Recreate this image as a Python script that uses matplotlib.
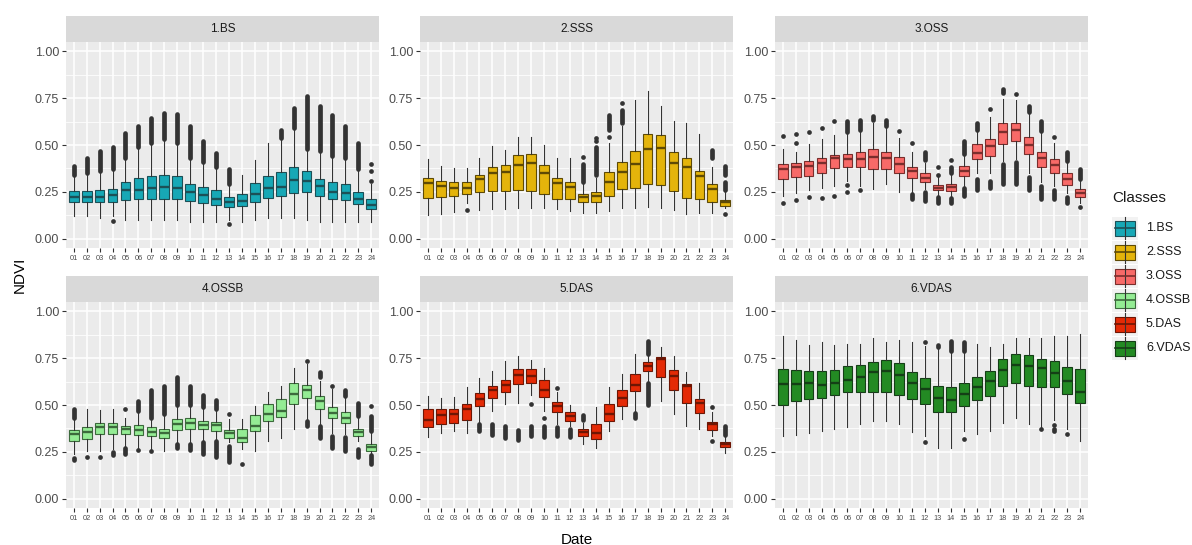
import numpy as np
import matplotlib.pyplot as plt

plt.rcParams['font.family'] = ['Liberation Sans', 'DejaVu Sans']

W, H = 1192, 545

dates = [f"{i:02d}" for i in range(1, 25)]
classes = ["1.BS", "2.SSS", "3.OSS", "4.OSSB", "5.DAS", "6.VDAS"]
fills = ["#17A8B6", "#E4B40B", "#F86A68", "#94EC94", "#E42A06", "#238A23"]
edges = ["#1C5057", "#5E4A05", "#7A2E2C", "#3C6A3C", "#6E1604", "#143F16"]

# box stats per date: [whisker low, Q1, median, Q3, whisker high]
bs_stats = [
    [0.12, 0.198, 0.223, 0.255, 0.335], [0.12, 0.194, 0.223, 0.255, 0.34],
    [0.11, 0.198, 0.225, 0.26, 0.35], [0.12, 0.198, 0.232, 0.267, 0.36],
    [0.10, 0.207, 0.258, 0.30, 0.42], [0.10, 0.214, 0.26, 0.326, 0.48],
    [0.10, 0.214, 0.273, 0.335, 0.50], [0.10, 0.214, 0.275, 0.34, 0.52],
    [0.10, 0.214, 0.27, 0.335, 0.50], [0.09, 0.20, 0.248, 0.29, 0.42],
    [0.09, 0.19, 0.232, 0.277, 0.40], [0.09, 0.18, 0.21, 0.26, 0.37],
    [0.10, 0.17, 0.195, 0.22, 0.28], [0.09, 0.175, 0.20, 0.24, 0.34],
    [0.10, 0.195, 0.24, 0.295, 0.42], [0.11, 0.215, 0.27, 0.335, 0.51],
    [0.11, 0.23, 0.275, 0.355, 0.53], [0.11, 0.246, 0.312, 0.38, 0.58],
    [0.10, 0.251, 0.308, 0.362, 0.47], [0.09, 0.228, 0.282, 0.32, 0.46],
    [0.09, 0.21, 0.251, 0.30, 0.43], [0.09, 0.205, 0.246, 0.294, 0.42],
    [0.09, 0.184, 0.214, 0.251, 0.36], [0.09, 0.157, 0.178, 0.21, 0.29],
]
sss_stats = [
    [0.125, 0.219, 0.296, 0.323, 0.424], [0.13, 0.225, 0.282, 0.308, 0.39],
    [0.143, 0.228, 0.273, 0.30, 0.375], [0.19, 0.237, 0.273, 0.30, 0.375],
    [0.153, 0.25, 0.317, 0.34, 0.433], [0.16, 0.255, 0.35, 0.383, 0.495],
    [0.16, 0.255, 0.357, 0.392, 0.474], [0.166, 0.26, 0.394, 0.446, 0.545],
    [0.166, 0.255, 0.403, 0.451, 0.545], [0.166, 0.237, 0.35, 0.392, 0.50],
    [0.157, 0.214, 0.296, 0.326, 0.428], [0.148, 0.21, 0.278, 0.303, 0.433],
    [0.139, 0.193, 0.223, 0.24, 0.29], [0.139, 0.193, 0.228, 0.25, 0.326],
    [0.148, 0.228, 0.303, 0.356, 0.513], [0.166, 0.267, 0.357, 0.41, 0.60],
    [0.166, 0.273, 0.397, 0.469, 0.74], [0.171, 0.29, 0.48, 0.56, 0.786],
    [0.166, 0.285, 0.485, 0.552, 0.706], [0.153, 0.255, 0.406, 0.464, 0.63],
    [0.13, 0.219, 0.38, 0.428, 0.617], [0.139, 0.214, 0.335, 0.362, 0.558],
    [0.139, 0.198, 0.267, 0.29, 0.38], [0.166, 0.175, 0.196, 0.207, 0.25],
]
oss_stats = [
    [0.228, 0.32, 0.371, 0.40, 0.478], [0.246, 0.33, 0.38, 0.406, 0.46],
    [0.26, 0.335, 0.389, 0.415, 0.504], [0.273, 0.348, 0.403, 0.428, 0.53],
    [0.28, 0.376, 0.428, 0.446, 0.553], [0.308, 0.385, 0.424, 0.451, 0.56],
    [0.28, 0.38, 0.424, 0.46, 0.567], [0.264, 0.374, 0.437, 0.481, 0.62],
    [0.29, 0.374, 0.428, 0.46, 0.59], [0.25, 0.353, 0.40, 0.437, 0.54],
    [0.25, 0.326, 0.36, 0.385, 0.46], [0.264, 0.30, 0.326, 0.348, 0.406],
    [0.228, 0.26, 0.273, 0.287, 0.335], [0.22, 0.255, 0.276, 0.294, 0.344],
    [0.28, 0.335, 0.362, 0.389, 0.442], [0.353, 0.424, 0.456, 0.504, 0.575],
    [0.353, 0.442, 0.496, 0.53, 0.647], [0.415, 0.508, 0.57, 0.615, 0.745],
    [0.424, 0.519, 0.579, 0.615, 0.74], [0.353, 0.451, 0.50, 0.545, 0.665],
    [0.30, 0.383, 0.43, 0.464, 0.567], [0.28, 0.35, 0.392, 0.424, 0.513],
    [0.246, 0.287, 0.317, 0.348, 0.406], [0.19, 0.225, 0.246, 0.264, 0.317],
]
ossb_stats = [
    [0.237, 0.308, 0.344, 0.367, 0.424], [0.255, 0.321, 0.357, 0.383, 0.478],
    [0.255, 0.344, 0.38, 0.403, 0.474], [0.264, 0.344, 0.38, 0.403, 0.481],
    [0.273, 0.344, 0.374, 0.389, 0.428], [0.273, 0.339, 0.367, 0.394, 0.462],
    [0.267, 0.332, 0.357, 0.38, 0.424], [0.255, 0.323, 0.348, 0.374, 0.442],
    [0.30, 0.367, 0.40, 0.424, 0.495], [0.30, 0.374, 0.403, 0.428, 0.495],
    [0.31, 0.374, 0.394, 0.415, 0.487], [0.32, 0.362, 0.394, 0.41, 0.469],
    [0.30, 0.326, 0.35, 0.365, 0.424], [0.264, 0.303, 0.323, 0.374, 0.424],
    [0.255, 0.362, 0.389, 0.446, 0.495], [0.308, 0.415, 0.451, 0.504, 0.57],
    [0.326, 0.438, 0.469, 0.53, 0.60], [0.37, 0.508, 0.558, 0.615, 0.70],
    [0.425, 0.535, 0.581, 0.606, 0.718], [0.40, 0.481, 0.522, 0.55, 0.63],
    [0.353, 0.428, 0.456, 0.487, 0.585], [0.344, 0.406, 0.433, 0.464, 0.54],
    [0.308, 0.335, 0.357, 0.374, 0.433], [0.237, 0.255, 0.276, 0.29, 0.353],
]
das_stats = [
    [0.33, 0.38, 0.419, 0.481, 0.549], [0.353, 0.397, 0.446, 0.481, 0.535],
    [0.362, 0.403, 0.451, 0.481, 0.545], [0.353, 0.42, 0.478, 0.504, 0.594],
    [0.41, 0.492, 0.531, 0.563, 0.642], [0.469, 0.54, 0.581, 0.603, 0.683],
    [0.504, 0.567, 0.606, 0.633, 0.736], [0.513, 0.611, 0.66, 0.692, 0.759],
    [0.553, 0.62, 0.656, 0.692, 0.742], [0.469, 0.545, 0.58, 0.635, 0.695],
    [0.40, 0.463, 0.496, 0.517, 0.567], [0.39, 0.415, 0.442, 0.46, 0.50],
    [0.294, 0.335, 0.357, 0.371, 0.406], [0.273, 0.317, 0.353, 0.397, 0.487],
    [0.362, 0.415, 0.451, 0.504, 0.594], [0.424, 0.496, 0.54, 0.581, 0.665],
    [0.469, 0.576, 0.608, 0.665, 0.772], [0.63, 0.683, 0.709, 0.727, 0.763],
    [0.52, 0.647, 0.745, 0.758, 0.81], [0.451, 0.581, 0.656, 0.686, 0.763],
    [0.389, 0.513, 0.602, 0.611, 0.677], [0.371, 0.456, 0.51, 0.531, 0.62],
    [0.335, 0.367, 0.397, 0.41, 0.46], [0.246, 0.276, 0.293, 0.305, 0.335],
]
vdas_stats = [
    [0.332, 0.50, 0.611, 0.692, 0.87], [0.339, 0.519, 0.611, 0.686, 0.848],
    [0.349, 0.531, 0.617, 0.679, 0.82], [0.362, 0.537, 0.608, 0.679, 0.834],
    [0.371, 0.553, 0.615, 0.686, 0.82], [0.38, 0.567, 0.635, 0.709, 0.825],
    [0.397, 0.572, 0.647, 0.715, 0.825], [0.412, 0.572, 0.674, 0.731, 0.856],
    [0.412, 0.572, 0.679, 0.74, 0.834], [0.397, 0.554, 0.66, 0.722, 0.847],
    [0.357, 0.531, 0.62, 0.674, 0.838], [0.335, 0.508, 0.585, 0.642, 0.815],
    [0.273, 0.463, 0.535, 0.599, 0.80], [0.273, 0.463, 0.528, 0.594, 0.78],
    [0.362, 0.496, 0.558, 0.617, 0.78], [0.344, 0.526, 0.597, 0.652, 0.825],
    [0.362, 0.549, 0.626, 0.679, 0.812], [0.406, 0.602, 0.688, 0.745, 0.825],
    [0.428, 0.615, 0.713, 0.775, 0.856], [0.397, 0.602, 0.709, 0.768, 0.856],
    [0.38, 0.597, 0.695, 0.745, 0.856], [0.42, 0.597, 0.67, 0.733, 0.87],
    [0.371, 0.558, 0.626, 0.704, 0.866], [0.308, 0.51, 0.572, 0.692, 0.879],
]

# outliers per date: a float is one point, a (lo, hi) pair is a dense run of points
bs_out = {
    1: [(0.34, 0.39)], 2: [(0.35, 0.43)], 3: [(0.36, 0.47)], 4: [(0.37, 0.49), 0.095],
    5: [(0.43, 0.565)], 6: [(0.49, 0.60)], 7: [(0.51, 0.645)], 8: [(0.53, 0.67)],
    9: [(0.51, 0.665)], 10: [(0.43, 0.60)], 11: [(0.41, 0.52)], 12: [(0.38, 0.455)],
    13: [(0.29, 0.37), 0.08], 17: [(0.54, 0.58)], 18: [(0.59, 0.70)], 19: [(0.48, 0.76)],
    20: [(0.47, 0.71)], 21: [(0.44, 0.66)], 22: [(0.43, 0.60)], 23: [(0.37, 0.51)],
    24: [0.31, 0.36, 0.40],
}
sss_out = {
    4: [0.153], 13: [(0.30, 0.40), 0.435], 14: [(0.34, 0.49), 0.52, 0.54],
    15: [0.545, (0.58, 0.66)], 16: [(0.62, 0.685), 0.725], 23: [(0.43, 0.475)],
    24: [(0.26, 0.30), (0.34, 0.39), 0.13],
}
oss_out = {
    1: [0.549, 0.19], 2: [0.513, 0.558, 0.205], 3: [0.57, 0.22], 4: [0.59, 0.215],
    5: [0.627, 0.228], 6: [(0.57, 0.63), 0.287, 0.25], 7: [(0.58, 0.635), 0.26],
    8: [(0.635, 0.655)], 9: [(0.60, 0.635)], 10: [0.577], 11: [0.51, (0.21, 0.24)],
    12: [(0.42, 0.46), (0.20, 0.25)], 13: [0.34, 0.385, (0.19, 0.22)],
    14: [(0.35, 0.38), 0.42, (0.19, 0.215)], 15: [(0.45, 0.52), (0.23, 0.27)],
    16: [(0.58, 0.62), (0.26, 0.32)], 17: [0.69, (0.27, 0.31)],
    18: [(0.78, 0.80), (0.29, 0.40)], 19: [0.77, (0.29, 0.41)],
    20: [(0.675, 0.71), (0.26, 0.33)], 21: [(0.575, 0.63), (0.21, 0.28)],
    22: [0.545, (0.21, 0.26)], 23: [(0.415, 0.46), (0.19, 0.22)], 24: [(0.32, 0.37), 0.17],
}
ossb_out = {
    1: [(0.43, 0.48), (0.205, 0.215)], 2: [0.22], 3: [0.225], 4: [(0.235, 0.25)],
    5: [0.48, (0.24, 0.27)], 6: [(0.47, 0.52), 0.26], 7: [(0.43, 0.58), 0.255],
    8: [(0.45, 0.60)], 9: [(0.50, 0.65), (0.27, 0.29)], 10: [(0.50, 0.60), (0.26, 0.29)],
    11: [(0.49, 0.555), (0.24, 0.30)], 12: [(0.48, 0.525), (0.22, 0.31)],
    13: [0.45, (0.195, 0.28)], 14: [0.185], 19: [0.735, (0.39, 0.415)],
    20: [(0.65, 0.675), (0.325, 0.39)], 21: [0.60, (0.27, 0.335)],
    22: [(0.55, 0.58), (0.255, 0.33)], 23: [(0.44, 0.51), (0.22, 0.265)],
    24: [(0.36, 0.44), 0.495, (0.185, 0.235)],
}
das_out = {
    5: [(0.36, 0.40)], 6: [(0.34, 0.40)], 7: [(0.325, 0.39)], 8: [(0.315, 0.365)],
    9: [0.505, (0.335, 0.39)], 10: [0.43, (0.33, 0.39)], 11: [0.59, (0.335, 0.38)],
    12: [(0.33, 0.37)], 13: [(0.42, 0.445)], 17: [(0.43, 0.455)],
    18: [(0.77, 0.84), (0.50, 0.62)], 23: [0.49, 0.31], 24: [(0.34, 0.39)],
}
vdas_out = {
    12: [0.838, 0.303], 13: [(0.81, 0.82)], 14: [(0.79, 0.84)], 15: [(0.79, 0.835), 0.32],
    21: [0.37], 22: [0.36, 0.37, 0.395], 23: [0.343],
}

all_stats = [bs_stats, sss_stats, oss_stats, ossb_stats, das_stats, vdas_stats]
all_out = [bs_out, sss_out, oss_out, ossb_out, das_out, vdas_out]


def px_rect(left, top, right, bottom):
    return [left / W, 1 - bottom / H, (right - left) / W, (bottom - top) / H]


fig = plt.figure(figsize=(W / 100, H / 100), dpi=100)
fig.patch.set_facecolor('white')

col_x = [(66, 379), (420, 733), (775, 1088)]
row_y = [(16, 42, 248), (276, 302, 508)]
pos = np.arange(1, 25)

for k in range(6):
    r, c = divmod(k, 3)
    x0, x1 = col_x[c]
    st, top, bot = row_y[r]

    ax = fig.add_axes(px_rect(x0, top, x1, bot))
    ax.set_facecolor('#EBEBEB')
    for s in ax.spines.values():
        s.set_visible(False)
    ax.set_xlim(0.4, 24.6)
    ax.set_ylim(-0.05, 1.05)
    ax.set_yticks([0, 0.25, 0.5, 0.75, 1.0])
    ax.set_yticklabels(["0.00", "0.25", "0.50", "0.75", "1.00"])
    ax.set_yticks([0.125, 0.375, 0.625, 0.875], minor=True)
    ax.set_xticks(pos)
    ax.set_xticklabels(dates)
    ax.set_axisbelow(True)
    ax.grid(True, which='major', color='white', lw=1.1)
    ax.grid(True, which='minor', axis='y', color='white', lw=0.55)
    ax.tick_params(axis='both', which='major', color='#333333', length=3, width=0.8,
                   labelcolor='#4D4D4D')
    ax.tick_params(axis='y', which='major', labelsize=9, pad=2)
    ax.tick_params(axis='x', which='major', labelsize=5.3, pad=2)
    ax.tick_params(which='minor', length=0)

    stats = [dict(whislo=s[0], q1=s[1], med=s[2], q3=s[3], whishi=s[4], fliers=[])
             for s in all_stats[k]]
    ax.bxp(stats, positions=pos, widths=0.75, patch_artist=True,
           showfliers=False, showcaps=False, manage_ticks=False,
           boxprops=dict(facecolor=fills[k], edgecolor=edges[k], linewidth=0.8),
           medianprops=dict(color=edges[k], linewidth=1.7),
           whiskerprops=dict(color='#333333', linewidth=0.8))

    for d, items in all_out[k].items():
        for it in items:
            if isinstance(it, tuple):
                ax.plot([d, d], it, color='#333333', lw=3.4, solid_capstyle='round')
            else:
                ax.plot(d, it, 'o', color='#333333', ms=3.4, mew=0)

    sax = fig.add_axes(px_rect(x0, st, x1, top))
    sax.set_facecolor('#D9D9D9')
    sax.set_xticks([])
    sax.set_yticks([])
    for s in sax.spines.values():
        s.set_visible(False)
    sax.text(0.5, 0.5, classes[k], ha='center', va='center', fontsize=8.5,
             color='#1A1A1A', transform=sax.transAxes)

fig.text(577 / W, 1 - 540 / H, "Date", ha='center', va='center', fontsize=11)
fig.text(20 / W, 1 - 275 / H, "NDVI", ha='center', va='center', fontsize=11,
         rotation=90)

# legend drawn in pixel coordinates
lax = fig.add_axes(px_rect(1100, 180, 1192, 370))
lax.set_xlim(1100, 1192)
lax.set_ylim(370, 180)
lax.axis('off')
lax.text(1112, 198, "Classes", fontsize=11, va='center', ha='left', color='#1A1A1A')
key_y = [228, 252, 276, 300, 324, 348]
for k, cy in enumerate(key_y):
    lax.add_patch(plt.Rectangle((1112, cy - 11.5), 26, 23, facecolor='#F2F2F2',
                                edgecolor='none'))
    lax.plot([1125, 1125], [cy - 11, cy + 11], color='#333333', lw=0.8)
    lax.add_patch(plt.Rectangle((1115, cy - 7.5), 20, 15, facecolor=fills[k],
                                edgecolor=edges[k], lw=0.8))
    lax.plot([1115, 1135], [cy, cy], color=edges[k], lw=1.2)
    lax.text(1146, cy, classes[k], fontsize=9, va='center', ha='left', color='#1A1A1A')

fig.savefig("out.png", dpi=100)
